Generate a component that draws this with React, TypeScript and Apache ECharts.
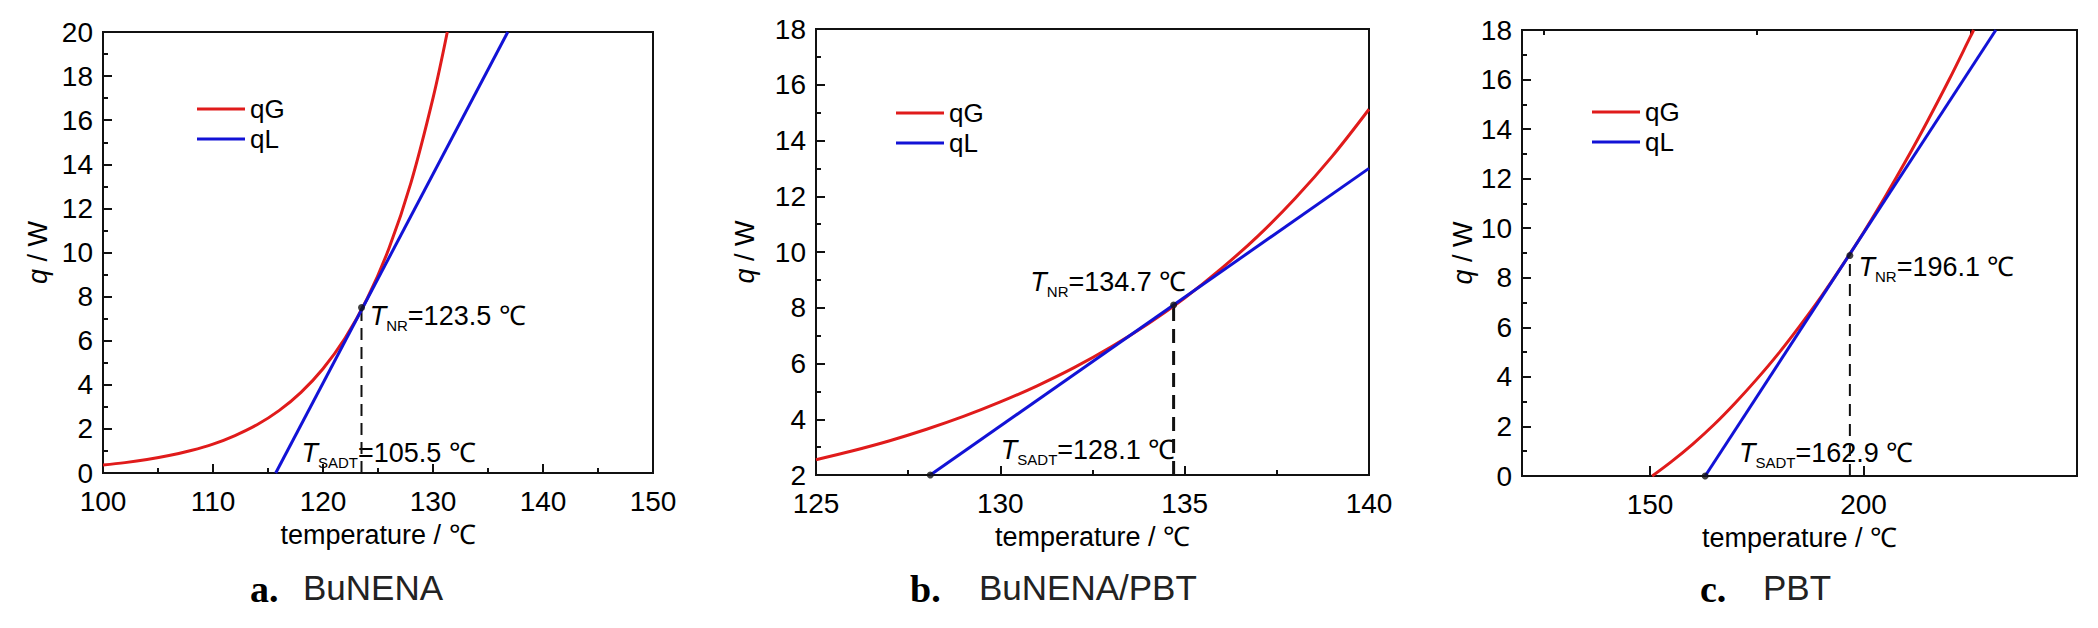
import React, { useEffect, useRef } from "react";
import * as echarts from "echarts";

// ---------- data ----------
// Chart a: BuNENA
const aGTemp = [100, 102, 104, 106, 108, 110, 112, 114, 116, 118, 120, 122, 124, 126, 128, 130, 131.3];
const aGHeat = [0.36, 0.47, 0.61, 0.79, 1.02, 1.31, 1.7, 2.19, 2.83, 3.66, 4.73, 6.11, 7.89, 10.19, 13.17, 17.0, 20.0];
const aLTemp = [115.7, 136.8];
const aLHeat = [0, 20];
const aNR = { t: 123.5, q: 7.5 };
// Chart b: BuNENA/PBT
const bGTemp = [125, 126, 127, 128, 129, 130, 131, 132, 133, 134, 135, 136, 137, 138, 139, 140];
const bGHeat = [2.55, 2.87, 3.23, 3.64, 4.1, 4.62, 5.2, 5.85, 6.59, 7.42, 8.35, 9.41, 10.59, 11.93, 13.43, 15.12];
const bLTemp = [128.1, 140];
const bLHeat = [2, 13.0];
const bNR = { t: 134.7, q: 8.1 };
// Chart c: PBT
const cGTemp = [150.5, 155, 160, 165, 170, 175, 180, 185, 190, 195, 200, 205, 210, 215, 220, 225, 225.8];
const cGHeat = [0, 0.58, 1.29, 2.08, 2.96, 3.91, 4.93, 6.04, 7.22, 8.49, 9.83, 11.25, 12.75, 14.33, 15.98, 17.72, 18.0];
const cLTemp = [162.9, 231];
const cLHeat = [0, 18];
const cNR = { t: 196.8, q: 8.9 };

const legendNames = ["qG", "qL"];
const captions = [
  { tag: "a.", name: "BuNENA" },
  { tag: "b.", name: "BuNENA/PBT" },
  { tag: "c.", name: "PBT" },
];
const nrTexts = ["123.5", "134.7", "196.1"];
const sadtTexts = ["105.5", "128.1", "162.9"];
const cLabelTicks = [150, 200];
const cMinorTicks = [125, 175, 225];

const RED = "#e01b1b";
const BLUE = "#1212d6";
const INK = "#000000";
const SANS = "'Liberation Sans', Arial, sans-serif";

const zip = (xs: number[], ys: number[]) => xs.map((x, i) => [x, ys[i]]);

const annoRich = {
  t: { fontFamily: SANS, fontSize: 27, fontStyle: "italic", lineHeight: 34, color: INK },
  s: { fontFamily: SANS, fontSize: 15, lineHeight: 34, verticalAlign: "bottom", color: INK },
  v: { fontFamily: SANS, fontSize: 27, lineHeight: 34, color: INK },
};

function buildOption() {
  const grids = [
    { left: 103, top: 32, width: 550, height: 441 },
    { left: 816, top: 29, width: 553, height: 446 },
    { left: 1522, top: 30, width: 555, height: 446 },
  ].map((g) => ({ ...g, show: true, borderColor: "#111", borderWidth: 2, backgroundColor: "transparent" }));

  const tickStyle = { color: "#111", width: 2 };
  const labelStyle = { color: INK, fontFamily: SANS, fontSize: 28 };
  const nameStyle = { color: INK, fontFamily: SANS, fontSize: 27 };

  const xBase = (gridIndex: number, min: number, max: number, interval: number) => ({
    type: "value",
    gridIndex,
    min,
    max,
    interval,
    name: "temperature / ℃",
    nameLocation: "middle",
    nameGap: 48,
    nameTextStyle: nameStyle,
    axisLine: { show: false },
    axisTick: { show: true, inside: true, length: 9, lineStyle: tickStyle },
    minorTick: { show: true, splitNumber: 2, length: 5, lineStyle: tickStyle },
    axisLabel: { ...labelStyle, margin: 14 },
    splitLine: { show: false },
    minorSplitLine: { show: false },
  });

  const yBase = (gridIndex: number, min: number, max: number, gap: number) => ({
    type: "value",
    gridIndex,
    min,
    max,
    interval: 2,
    name: "{i|q} / W",
    nameLocation: "middle",
    nameGap: gap,
    nameTextStyle: {
      ...nameStyle,
      rich: {
        i: { fontFamily: SANS, fontSize: 27, fontStyle: "italic", color: INK },
      },
    },
    axisLine: { show: false },
    axisTick: { show: true, inside: true, length: 9, lineStyle: tickStyle },
    minorTick: { show: true, splitNumber: 2, length: 5, lineStyle: tickStyle },
    axisLabel: { ...labelStyle, margin: 10 },
    splitLine: { show: false },
    minorSplitLine: { show: false },
  });

  const xAxis: any[] = [
    xBase(0, 100, 150, 10),
    xBase(1, 125, 140, 5),
    {
      ...xBase(2, 120, 250, 10),
      interval: undefined,
      minorTick: { show: false },
      axisTick: { show: true, inside: true, length: 10, lineStyle: tickStyle, customValues: cLabelTicks },
      axisLabel: { ...labelStyle, margin: 14, customValues: cLabelTicks },
    },
    {
      type: "value",
      gridIndex: 2,
      min: 120,
      max: 250,
      axisLine: { show: false },
      axisTick: { show: true, inside: true, length: 5, lineStyle: tickStyle, customValues: cMinorTicks },
      axisLabel: { show: false },
      splitLine: { show: false },
    },
  ];
  const yAxis: any[] = [yBase(0, 0, 20, 52), yBase(1, 2, 18, 58), yBase(2, 0, 18, 46)];

  const sets = [
    { g: zip(aGTemp, aGHeat), l: zip(aLTemp, aLHeat), nr: aNR, ymin: 0, dash: [12, 7], dw: 2,
      nrAt: [124.2, 7.12], sadtAt: [118.0, 0.91], dots: [[aNR.t, aNR.q]], x: 0 },
    { g: zip(bGTemp, bGHeat), l: zip(bLTemp, bLHeat), nr: bNR, ymin: 2, dash: [14, 8], dw: 3,
      nrAt: [130.8, 8.94], sadtAt: [130.0, 2.89], dots: [[bNR.t, bNR.q], [bLTemp[0], bLHeat[0]]], x: 1 },
    { g: zip(cGTemp, cGHeat), l: zip(cLTemp, cLHeat), nr: cNR, ymin: 0, dash: [12, 8], dw: 2,
      nrAt: [198.7, 8.44], sadtAt: [170.7, 0.93], dots: [[cNR.t, cNR.q], [cLTemp[0], cLHeat[0]]], x: 2 },
  ];

  const series: any[] = [];
  sets.forEach((s, i) => {
    const axes = { xAxisIndex: s.x, yAxisIndex: i };
    series.push({
      name: "qG", type: "line", ...axes, data: s.g, smooth: 0.35, symbol: "none",
      lineStyle: { color: RED, width: 3 }, itemStyle: { color: RED }, z: 3, silent: true,
    });
    series.push({
      name: "qL", type: "line", ...axes, data: s.l, symbol: "none",
      lineStyle: { color: BLUE, width: 3 }, itemStyle: { color: BLUE }, z: 4, silent: true,
    });
    series.push({
      name: "guide", type: "line", ...axes, symbol: "none", silent: true,
      data: [[s.nr.t, s.ymin], [s.nr.t, s.nr.q]],
      lineStyle: { color: "#111", width: s.dw, type: s.dash }, z: 2,
    });
    series.push({
      name: "dot", type: "scatter", ...axes, data: s.dots, symbolSize: 7, silent: true,
      itemStyle: { color: "#111" }, z: 5,
    });
    series.push({
      name: "note", type: "scatter", ...axes, symbolSize: 1, silent: true,
      itemStyle: { color: "#ffffff", opacity: 1 }, z: 1,
      label: { show: true, position: "right", distance: 0, color: INK, opacity: 1, rich: annoRich },
      data: [
        { value: s.nrAt, label: { formatter: `{t|T}{s|NR}{v|=${nrTexts[i]} ℃}` } },
        { value: s.sadtAt, label: { formatter: `{t|T}{s|SADT}{v|=${sadtTexts[i]} ℃}` } },
      ],
    });
  });

  const legendPos = [
    { left: 192, top: 90 },
    { left: 891, top: 94 },
    { left: 1587, top: 93 },
  ];
  const legend = legendPos.map((p) => ({
    ...p,
    orient: "vertical",
    data: legendNames.map((n) => ({ name: n, icon: "rect" })),
    itemWidth: 48,
    itemHeight: 3,
    itemGap: 2,
    selectedMode: false,
    textStyle: { color: INK, fontFamily: SANS, fontSize: 26, lineHeight: 28 },
  }));

  const capPos = [
    { tagX: 250, nameX: 303 },
    { tagX: 910, nameX: 979 },
    { tagX: 1700, nameX: 1763 },
  ];
  const graphic: any[] = [];
  captions.forEach((c, i) => {
    graphic.push({
      type: "text", left: capPos[i].tagX, top: 570,
      style: { text: c.tag, fill: INK, font: "bold 38px 'Liberation Serif', serif" },
    });
    graphic.push({
      type: "text", left: capPos[i].nameX, top: 570,
      style: { text: c.name, fill: "#222", font: "35px 'Liberation Sans', Arial, sans-serif" },
    });
  });

  return {
    animation: false,
    backgroundColor: "#ffffff",
    grid: grids,
    xAxis,
    yAxis,
    legend,
    series,
    graphic,
  };
}

export default function App() {
  const ref = useRef<HTMLDivElement>(null);
  useEffect(() => {
    if (!ref.current) return;
    const chart = echarts.init(ref.current, undefined, { renderer: "svg" });
    chart.setOption(buildOption() as any);
    return () => chart.dispose();
  }, []);
  return (
    <div
      ref={ref}
      style={{ position: "absolute", left: 0, top: 0, width: 2098, height: 628, background: "#fff" }}
    />
  );
}
